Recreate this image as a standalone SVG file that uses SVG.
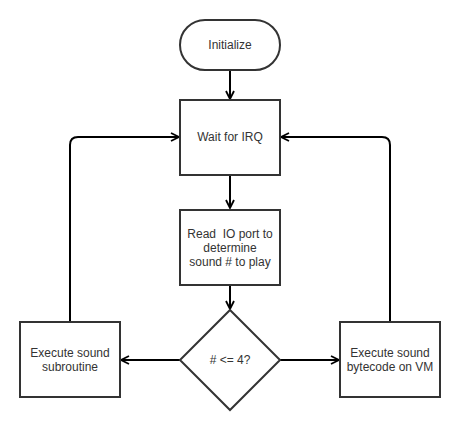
<svg xmlns="http://www.w3.org/2000/svg" width="460" height="430" viewBox="0 0 460 430">
<defs>
<style>
.shape{fill:#ffffff;stroke:#333333;stroke-width:2}
.edge{fill:none;stroke:#000000;stroke-width:2}
.lbl{font-family:"Liberation Sans",Arial,sans-serif;font-size:12px;fill:#333333;text-anchor:middle}
</style>
<marker id="arr" viewBox="0 0 10 10" refX="9" refY="5" markerWidth="10" markerHeight="10" markerUnits="userSpaceOnUse" orient="auto">
<path d="M1,1 L9,5 L1,9" fill="none" stroke="#000" stroke-width="1.8"/>
</marker>
</defs>
<rect width="460" height="430" fill="#ffffff"/>
<g id="connectors">
<path class="edge" d="M230,70 L230,99" marker-end="url(#arr)"/>
<path class="edge" d="M230,175 L230,208" marker-end="url(#arr)"/>
<path class="edge" d="M230,285 L230,309" marker-end="url(#arr)"/>
<path class="edge" d="M180,360 L121,360" marker-end="url(#arr)"/>
<path class="edge" d="M280,360 L339,360" marker-end="url(#arr)"/>
<path class="edge" d="M70,322 L70,145 Q70,137 78,137 L179,137" marker-end="url(#arr)"/>
<path class="edge" d="M390,322 L390,145 Q390,137 382,137 L281,137" marker-end="url(#arr)"/>
</g>
<g id="initialize">
<rect class="shape" x="180" y="20" width="100" height="50" rx="25" ry="25"/>
<text class="lbl" x="230" y="49">Initialize</text>
</g>
<g id="wait">
<rect class="shape" x="180" y="100" width="100" height="75"/>
<text class="lbl" x="230" y="141">Wait for IRQ</text>
</g>
<g id="read">
<rect class="shape" x="180" y="210" width="100" height="75"/>
<text class="lbl" x="230" y="238" style="white-space:pre">Read  IO port to</text>
<text class="lbl" x="230" y="252">determine</text>
<text class="lbl" x="230" y="266">sound # to play</text>
</g>
<g id="decision">
<path class="shape" d="M230,310 L280,360 L230,410 L180,360 Z"/>
<text class="lbl" x="230" y="364"># &lt;= 4?</text>
</g>
<g id="subroutine">
<rect class="shape" x="20" y="322" width="100" height="75"/>
<text class="lbl" x="70" y="357">Execute sound</text>
<text class="lbl" x="70" y="371">subroutine</text>
</g>
<g id="bytecode">
<rect class="shape" x="340" y="322" width="100" height="75"/>
<text class="lbl" x="390" y="357">Execute sound</text>
<text class="lbl" x="390" y="371">bytecode on VM</text>
</g>
</svg>
